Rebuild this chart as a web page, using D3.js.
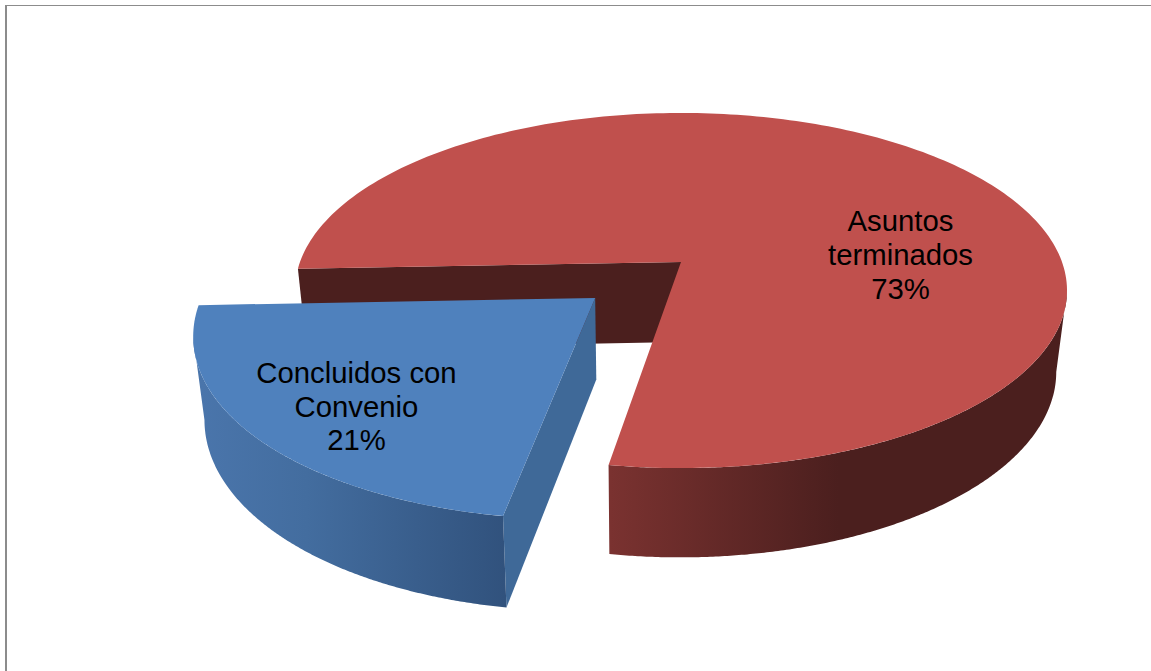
<!DOCTYPE html>
<html><head><meta charset="utf-8">
<script src="https://cdn.jsdelivr.net/npm/d3@7/dist/d3.min.js"></script>
<style>html,body{margin:0;padding:0;background:#fff;overflow:hidden}svg{display:block}text{font-family:"Liberation Sans",Arial,sans-serif;font-size:29.3px;fill:#000}</style>
</head><body><svg id="c" width="1151" height="671"></svg>
<script>
const categories = ["Asuntos terminados", "Concluidos con Convenio"];
const seriesValues = [73.4, 20.5];
const percentLabels = ["73%", "21%"];

const svg = d3.select("#c");
const deg = Math.PI / 180;
const START = 267.8 * deg;
const pie = d3.pie().value(d => d).sort(null).startAngle(START).endAngle(START + 2 * Math.PI);
const arcs = pie(seriesValues);

const APEX = [681, 262], R = 381, RF = 173, P = 0.1606;
const EXPLODE = [[0, 0], [-0.218, 0.2013]];

// world unit coords -> screen, z 0 = top disc, 1 = bottom disc
function project(wx, wy, z) {
  const w = 1 - P * wy;
  const x = APEX[0] + R * wx / w;
  const y = APEX[1] + RF * wy / w;
  return [x + z * 0.0252 * (640 - x), y + z * (80 + 0.045 * (y - 262))];
}
const onRim = (a, i, z) => project(Math.sin(a) + EXPLODE[i][0], -Math.cos(a) + EXPLODE[i][1], z);
const apex = (i, z) => project(EXPLODE[i][0], EXPLODE[i][1], z);
const line = d3.line();
const angles = (a0, a1) => d3.range(0, 241).map(k => a0 + (a1 - a0) * k / 240);
const rim = (as, i, z) => as.map(a => onRim(a, i, z));

const defs = svg.append("defs");
function grad(id, x1, x2, stops) {
  const g = defs.append("linearGradient").attr("id", id).attr("gradientUnits", "userSpaceOnUse")
    .attr("x1", x1).attr("x2", x2).attr("y1", 0).attr("y2", 0);
  stops.forEach(s => g.append("stop").attr("offset", s[0]).attr("stop-color", s[1]));
}
grad("redSide", 610, 1067, [[0, "#7a3230"], [0.5, "#4b1f1e"], [1, "#4b1f1e"]]);
grad("blueSide", 200, 505, [[0, "#4a75ab"], [0.35, "#436d9f"], [1, "#31527d"]]);

// frame
svg.append("path").attr("d", line([[5, 5.5], [1151, 5.5]])).attr("fill", "none").attr("stroke", "#8c8c8c").attr("stroke-width", 1);
svg.append("path").attr("d", line([[6, 5], [6, 671]])).attr("fill", "none").attr("stroke", "#8c8c8c").attr("stroke-width", 2);

const red = arcs[0], blue = arcs[1];

// red: cut wall facing viewer
svg.append("path").attr("d", line([apex(0, 0), onRim(red.startAngle, 0, 0), onRim(red.startAngle, 0, 1), apex(0, 1)]) + "Z")
  .attr("fill", "#4b1f1e");
// red: outer wall, from the widest point on the right through the front to the cut
const redAll = angles(2 * Math.PI, red.endAngle);
const redA0 = d3.greatest(redAll, a => onRim(a, 0, 0)[0]);
const redWall = angles(redA0, red.endAngle);
svg.append("path")
  .attr("d", line(rim(redWall, 0, 0).concat(rim(redWall, 0, 1).reverse())) + "Z")
  .attr("fill", "url(#redSide)");
// red top
svg.append("path").attr("d", line([apex(0, 0)].concat(rim(angles(red.startAngle, red.endAngle), 0, 0))) + "Z")
  .attr("fill", "#c0504d");

// blue: cut wall on its right side
svg.append("path").attr("d", line([apex(1, 0), onRim(blue.startAngle, 1, 0), onRim(blue.startAngle, 1, 1), apex(1, 1)]) + "Z")
  .attr("fill", "#3f6998");
// blue: outer wall, from the cut to the widest point on the left
const blueAll = angles(blue.startAngle, blue.endAngle);
const blueA1 = d3.least(blueAll, a => onRim(a, 1, 0)[0]);
const blueWall = angles(blue.startAngle, blueA1);
svg.append("path")
  .attr("d", line(rim(blueWall, 1, 0).concat(rim(blueWall, 1, 1).reverse())) + "Z")
  .attr("fill", "url(#blueSide)");
// blue top
svg.append("path").attr("d", line([apex(1, 0)].concat(rim(blueAll, 1, 0))) + "Z")
  .attr("fill", "#4f81bd");

const labels = [
  { lines: ["Asuntos", "terminados", percentLabels[0]], x: 900.5, y: [231, 265, 299] },
  { lines: ["Concluidos con", "Convenio", percentLabels[1]], x: 356.5, y: [383, 417, 450] }
];
labels.forEach(l => l.lines.forEach((t, i) => {
  svg.append("text").attr("x", l.x).attr("y", l.y[i]).attr("text-anchor", "middle").text(t);
}));
</script></body></html>
